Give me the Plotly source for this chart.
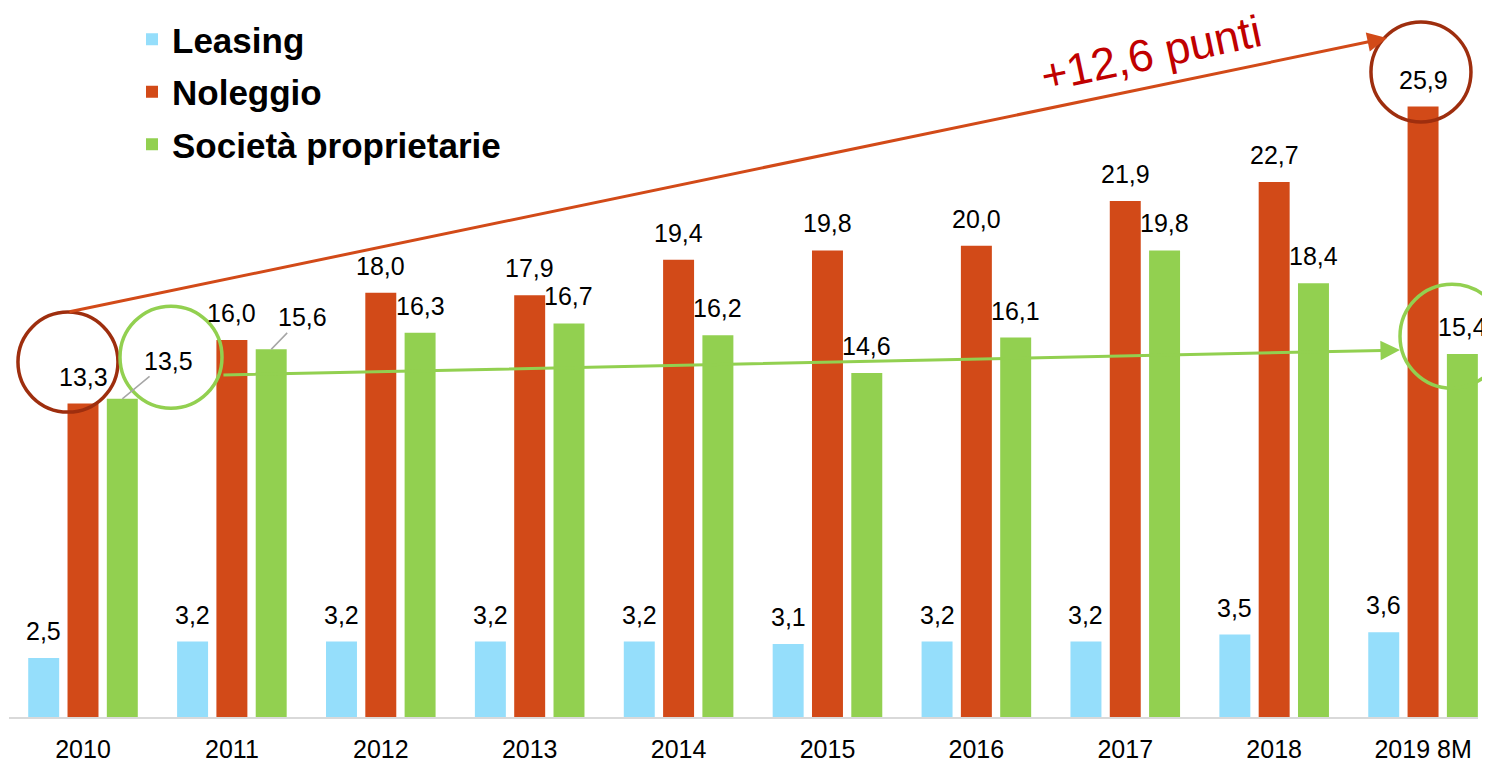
import plotly.graph_objects as go

categories = ["2010", "2011", "2012", "2013", "2014", "2015", "2016", "2017", "2018", "2019 8M"]
leasing = [2.5, 3.2, 3.2, 3.2, 3.2, 3.1, 3.2, 3.2, 3.5, 3.6]
noleggio = [13.3, 16.0, 18.0, 17.9, 19.4, 19.8, 20.0, 21.9, 22.7, 25.9]
societa = [13.5, 15.6, 16.3, 16.7, 16.2, 14.6, 16.1, 19.8, 18.4, 15.4]
series_names = ["Leasing", "Noleggio", "Società proprietarie"]
delta_label = "+12,6 punti"

C_LEASING = "#95DEFB"
C_NOLEGGIO = "#D24A18"
C_SOCIETA = "#92D050"
C_BROWN = "#9E2E0E"
FONT = "Arial, Liberation Sans, sans-serif"

W = 0.208
OFFS = [-0.264, 0.0, 0.264]

def fmt(v):
    return f"{v:.1f}".replace(".", ",")

fig = go.Figure()
for name, vals, col, off in zip(series_names, [leasing, noleggio, societa],
                                 [C_LEASING, C_NOLEGGIO, C_SOCIETA], OFFS):
    fig.add_trace(go.Bar(
        name=name, x=categories, y=vals, width=W, offset=off - W / 2,
        marker=dict(color=col, line=dict(width=0)), legendgroup=name,
    ))

annotations = []
# data labels
for si, (vals, off) in enumerate(zip([leasing, noleggio, societa], OFFS)):
    for i, v in enumerate(vals):
        if si == 2 and i in (0, 1):
            continue
        annotations.append(dict(
            x=i + off, y=v, xref="x", yref="y", text=fmt(v), showarrow=False,
            yanchor="bottom", xanchor="center", yshift=11,
            font=dict(family=FONT, size=25, color="black"),
        ))
# displaced labels with leader lines
for i, (ax, ay) in zip((0, 1), ((46, -38), (31, -32))):
    annotations.append(dict(
        x=i + OFFS[2], y=societa[i], xref="x", yref="y", text=fmt(societa[i]),
        showarrow=True, arrowhead=0, arrowwidth=1.5, arrowcolor="#A6A6A6",
        ax=ax, ay=ay, standoff=0,
        font=dict(family=FONT, size=25, color="black"),
    ))

# big arrows
annotations.append(dict(
    x=8.757, y=28.81, ax=-0.101, ay=17.18, xref="x", yref="y", axref="x", ayref="y",
    text="", showarrow=True, arrowhead=2, arrowsize=1.3, arrowwidth=3,
    arrowcolor=C_NOLEGGIO, standoff=0,
))
annotations.append(dict(
    x=8.845, y=15.57, ax=0.933, ay=14.51, xref="x", yref="y", axref="x", ayref="y",
    text="", showarrow=True, arrowhead=2, arrowsize=1.3, arrowwidth=3,
    arrowcolor=C_SOCIETA, standoff=0,
))
annotations.append(dict(
    x=7.173, y=28.15, xref="x", yref="y", text=delta_label, showarrow=False,
    textangle=-12, font=dict(family=FONT, size=45, color="#C00000"),
    xanchor="center", yanchor="middle", borderpad=0,
))

shapes = []
def circ(xc, yc, r, color, xref="x"):
    return dict(type="circle", xref=xref, yref="y", xsizemode="pixel", ysizemode="pixel",
                xanchor=xc, yanchor=yc, x0=-r, x1=r, y0=-r, y1=r,
                line=dict(color=color, width=3.5), layer="above")

shapes.append(circ(-0.101, 15.06, 50, C_BROWN))
shapes.append(circ(0.591, 15.27, 51, C_SOCIETA))
shapes.append(circ(8.986, 27.37, 50, C_BROWN))
shapes.append(circ((1444 - 1) / 1469, 16.16, 52, C_SOCIETA, xref="paper"))

fig.update_layout(
    width=1482, height=755,
    margin=dict(l=1, r=12, t=2, b=46),
    plot_bgcolor="white", paper_bgcolor="white",
    barmode="overlay",
    showlegend=True,
    legend=dict(
        x=(124 - 1) / 1469, y=1.0, xanchor="left", yanchor="top",
        font=dict(family=FONT, size=35, color="black", weight="bold"),
        bgcolor="rgba(0,0,0,0)", tracegroupgap=4, traceorder="grouped",
    ),
    xaxis=dict(
        type="category", range=[-0.497, 9.369], showgrid=False, zeroline=False,
        showline=True, linecolor="#D9D9D9", linewidth=2, ticks="",
        tickfont=dict(family=FONT, size=25, color="black"),
        ticklabelstandoff=9, automargin=False, fixedrange=True,
    ),
    yaxis=dict(range=[0, 30], visible=False, fixedrange=True),
    annotations=annotations,
    shapes=shapes,
)

fig.write_html("out.html")
